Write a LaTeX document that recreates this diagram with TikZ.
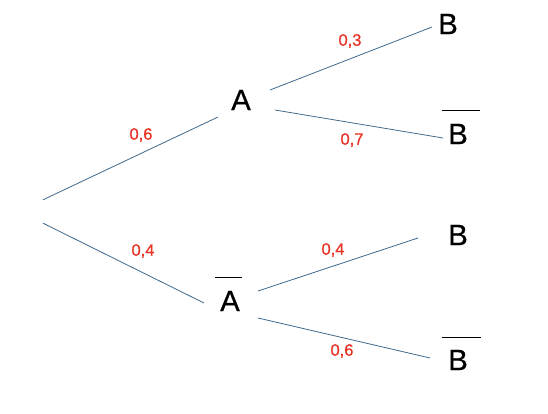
\documentclass[tikz,border=0pt]{standalone}
\usepackage{fontspec}
\setmainfont{Liberation Sans}
\newfontfamily\evfont[FakeBold=0.6]{Liberation Sans}
\newfontfamily\prfont[FakeBold=0.8]{Liberation Sans}
\definecolor{branch}{RGB}{62,104,140}
\definecolor{prob}{RGB}{232,52,40}
\begin{document}
\begin{tikzpicture}[x=1pt,y=-1pt,
  ev/.style={inner sep=0pt,font=\evfont\fontsize{29.5}{29.5}\selectfont},
  pr/.style={text=prob,inner sep=0pt,font=\prfont\fontsize{16.5}{16.5}\selectfont},
  br/.style={draw=branch,line width=0.8pt},
  barline/.style={draw=black,line width=0.9pt}]
\useasboundingbox (0,0) rectangle (548,414);
\node[inner sep=0pt,minimum width=0pt,minimum height=23pt] (root) at (43,211.5) {};
\node[ev] (A) at (241,100) {A};
\node[ev] (Ab) at (230,301) {A};
\node[ev] (B1) at (448,24) {B};
\node[ev] (B2) at (458,134) {B};
\node[ev] (B3) at (458,235) {B};
\node[ev] (B4) at (458,360) {B};
% branches
\draw[br] (root.north) -- ([shift={(-23,17)}]A.center);
\draw[br] (root.south) -- ([shift={(-26,2)}]Ab.center);
\draw[br] ([shift={(29,-10)}]A.center) -- ([shift={(-16,3)}]B1.center);
\draw[br] ([shift={(34,10)}]A.center) -- ([shift={(-15,4)}]B2.center);
\draw[br] ([shift={(28,-10)}]Ab.center) -- ([shift={(-40,3)}]B3.center);
\draw[br] ([shift={(28,17)}]Ab.center) -- ([shift={(-28,-2)}]B4.center);
% bars
\draw[barline] ([shift={(-15,-24)}]Ab.center) -- ([shift={(12,-24)}]Ab.center);
\draw[barline] ([shift={(-16,-24)}]B2.center) -- ([shift={(22,-24)}]B2.center);
\draw[barline] ([shift={(-16,-23)}]B4.center) -- ([shift={(23,-23)}]B4.center);
% probabilities
\node[pr] (p1) at (141,135) {0,6};
\node[pr] (p2) at (143,251) {0,4};
\node[pr] (p3) at (350,41) {0,3};
\node[pr] (p4) at (352,140) {0,7};
\node[pr] (p5) at (333,250) {0,4};
\node[pr] (p6) at (342,351) {0,6};
\end{tikzpicture}
\end{document}
